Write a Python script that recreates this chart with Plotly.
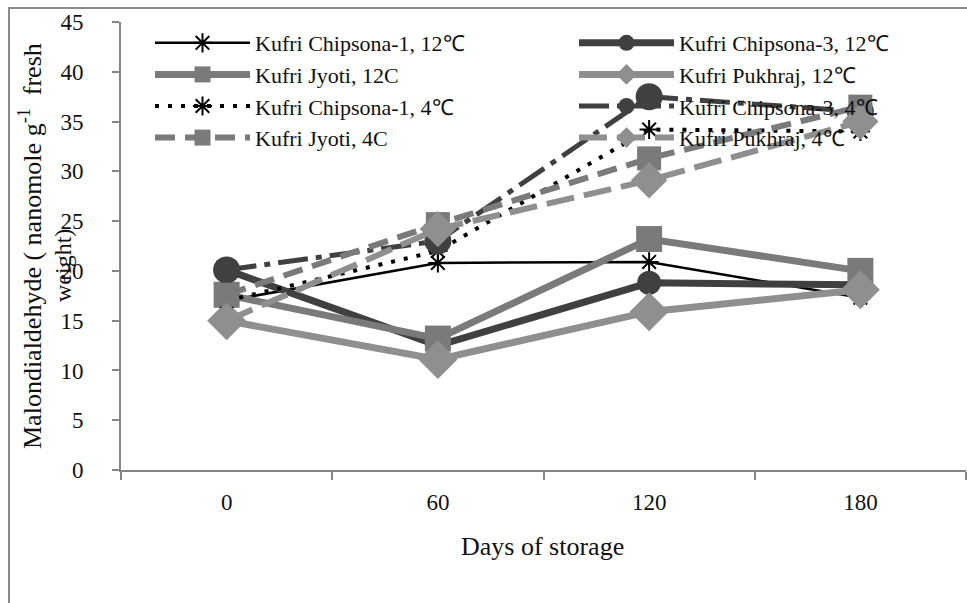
import plotly.graph_objects as go

days = ["0", "60", "120", "180"]
names = [
    "Kufri Chipsona-1, 12℃", "Kufri Chipsona-3, 12℃", "Kufri Jyoti, 12C", "Kufri Pukhraj, 12℃",
    "Kufri Chipsona-1, 4℃", "Kufri Chipsona-3, 4℃", "Kufri Jyoti, 4C", "Kufri Pukhraj, 4℃",
]
chipsona1_12 = [17.0, 20.8, 20.9, 17.3]
chipsona3_12 = [20.1, 12.5, 18.8, 18.6]
jyoti_12 = [17.6, 13.2, 23.2, 20.0]
pukhraj_12 = [15.0, 11.1, 15.9, 18.1]
chipsona1_4 = [17.0, 22.0, 34.2, 34.0]
chipsona3_4 = [20.1, 23.0, 37.5, 36.0]
jyoti_4 = [17.6, 24.7, 31.3, 36.5]
pukhraj_4 = [15.0, 24.2, 29.1, 35.0]
series = [chipsona1_12, chipsona3_12, jyoti_12, pukhraj_12,
          chipsona1_4, chipsona3_4, jyoti_4, pukhraj_4]

styles = [
    dict(color="#000000", width=2.5, dash="solid", symbol="asterisk-open", size=16, legend="legend"),
    dict(color="#404040", width=7, dash="solid", symbol="circle", size=24, legend="legend2"),
    dict(color="#7a7a7a", width=7, dash="solid", symbol="square", size=26, legend="legend"),
    dict(color="#8f8f8f", width=7, dash="solid", symbol="diamond", size=30, legend="legend2"),
    dict(color="#000000", width=4, dash="4px,9px", symbol="asterisk-open", size=16, legend="legend"),
    dict(color="#404040", width=5, dash="30px,8px,6px,8px", symbol="circle", size=27, legend="legend2"),
    dict(color="#7a7a7a", width=6, dash="20px,10px", symbol="square", size=24, legend="legend"),
    dict(color="#8f8f8f", width=6, dash="28px,10px", symbol="diamond", size=28, legend="legend2"),
]

FONT = "Liberation Serif"
TXT = "#111111"
fig = go.Figure()
for name, vals, st in zip(names, series, styles):
    is_star = st["symbol"].startswith("asterisk")
    fig.add_trace(go.Scatter(
        x=days, y=vals, name=name, mode="lines+markers",
        line=dict(color=st["color"], width=st["width"], dash=st["dash"]),
        marker=dict(symbol=st["symbol"], size=st["size"], color=st["color"],
                    line=dict(color=st["color"], width=2 if is_star else 0)),
        legend=st["legend"],
    ))

W, H = 967, 603
L, R, T, B = 121, 1, 22, 133
pw, ph = W - L - R, H - T - B

def px2x(p):
    return (p - L) / pw

def py2y(p):
    return (H - B - p) / ph

legend_common = dict(
    font=dict(family=FONT, size=22, color=TXT),
    bgcolor="rgba(0,0,0,0)", borderwidth=0, itemwidth=95,
    yanchor="top", xanchor="left", orientation="v", tracegroupgap=0,
)

fig.update_layout(
    width=W, height=H,
    margin=dict(l=L, r=R, t=T, b=B),
    paper_bgcolor="white", plot_bgcolor="white",
    font=dict(family=FONT, size=22, color=TXT),
    showlegend=True,
    legend=dict(x=px2x(150), y=py2y(22), **legend_common),
    legend2=dict(x=px2x(574), y=py2y(22), **legend_common),
    xaxis=dict(
        type="category", range=[-0.5, 3.5], tickson="boundaries",
        showline=True, linecolor="#858585", linewidth=2,
        ticks="outside", ticklen=8, tickcolor="#858585", tickwidth=2,
        showgrid=False, zeroline=False, ticklabelstandoff=10,
        tickfont=dict(family=FONT, size=23, color=TXT),
    ),
    yaxis=dict(
        range=[0, 45], dtick=5, showline=True, linecolor="#858585", linewidth=2,
        ticks="outside", ticklen=7, tickcolor="#858585", tickwidth=2,
        showgrid=False, zeroline=False, ticklabelstandoff=24,
        tickfont=dict(family=FONT, size=23, color=TXT),
    ),
    annotations=[
        dict(text="Days of storage", xref="paper", yref="paper", x=px2x(542), y=py2y(546),
             showarrow=False, font=dict(family=FONT, size=26, color=TXT),
             xanchor="center", yanchor="middle"),
        dict(text="Malondialdehyde ( nanomole g<sup>-1</sup>  fresh", xref="paper", yref="paper",
             x=px2x(30), y=py2y(246), textangle=-90, showarrow=False,
             font=dict(family=FONT, size=26, color=TXT),
             xanchor="center", yanchor="middle"),
        dict(text="weight)", xref="paper", yref="paper",
             x=px2x(63), y=py2y(266), textangle=-90, showarrow=False,
             font=dict(family=FONT, size=24, color=TXT),
             xanchor="center", yanchor="middle"),
    ],
    shapes=[
        dict(type="rect", xref="paper", yref="paper",
             x0=px2x(9), x1=px2x(1000), y0=py2y(8), y1=py2y(650),
             line=dict(color="#8a8a8a", width=2), fillcolor="rgba(0,0,0,0)", layer="below"),
    ],
)

fig.write_html("out.html")
